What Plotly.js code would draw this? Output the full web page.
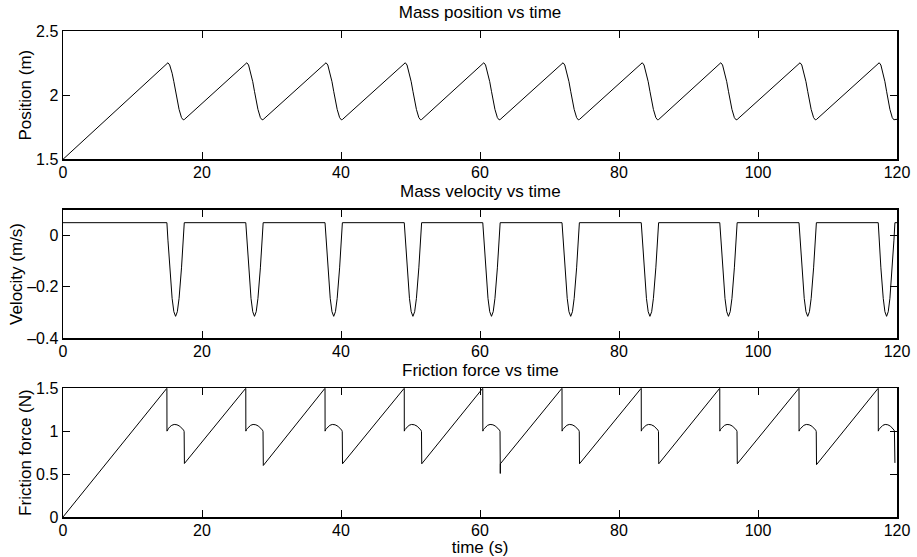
<!DOCTYPE html>
<html><head><meta charset="utf-8">
<script src="https://cdn.plot.ly/plotly-3.0.1.min.js"></script>
<style>html,body{margin:0;padding:0;background:#fff}#chart{width:917px;height:557px}</style>
</head><body><div id="chart"></div>
<script>
// Time samples (s) for position and velocity
const motionTime = [
  0,
  14.95,15.10,15.35,15.70,15.95,16.20,16.45,16.70,17.05,17.30,17.45,
  26.30,26.45,26.70,27.05,27.30,27.55,27.80,28.05,28.40,28.65,28.80,
  37.70,37.85,38.10,38.45,38.70,38.95,39.20,39.45,39.80,40.05,40.20,
  49.10,49.25,49.50,49.85,50.10,50.35,50.60,50.85,51.20,51.45,51.60,
  60.40,60.55,60.80,61.15,61.40,61.65,61.90,62.15,62.50,62.75,62.90,
  71.80,71.95,72.20,72.55,72.80,73.05,73.30,73.55,73.90,74.15,74.30,
  83.20,83.35,83.60,83.95,84.20,84.45,84.70,84.95,85.30,85.55,85.70,
  94.50,94.65,94.90,95.25,95.50,95.75,96.00,96.25,96.60,96.85,97.00,
  105.90,106.05,106.30,106.65,106.90,107.15,107.40,107.65,108.00,108.25,108.40,
  117.30,117.44,117.68,118.02,118.26,118.50,118.74,118.98,119.32,119.56,119.70,
  120
];
// Mass position (m)
const positionM = [
  1.5,
  2.25,2.2525,2.235,2.171,2.105,2.03,1.955,1.889,1.825,1.8075,1.81,
  2.25,2.2525,2.235,2.171,2.105,2.03,1.955,1.889,1.825,1.8075,1.81,
  2.25,2.2525,2.235,2.171,2.105,2.03,1.955,1.889,1.825,1.8075,1.81,
  2.25,2.2525,2.235,2.171,2.105,2.03,1.955,1.889,1.825,1.8075,1.81,
  2.25,2.2525,2.235,2.171,2.105,2.03,1.955,1.889,1.825,1.8075,1.81,
  2.25,2.2525,2.235,2.171,2.105,2.03,1.955,1.889,1.825,1.8075,1.81,
  2.25,2.2525,2.235,2.171,2.105,2.03,1.955,1.889,1.825,1.8075,1.81,
  2.25,2.2525,2.235,2.171,2.105,2.03,1.955,1.889,1.825,1.8075,1.81,
  2.25,2.2525,2.235,2.171,2.105,2.03,1.955,1.889,1.825,1.8075,1.81,
  2.25,2.2525,2.235,2.171,2.105,2.03,1.955,1.889,1.825,1.8075,1.81,
  1.8115
];
// Mass velocity (m/s)
const velocityMs = [
  0.05,
  0.05,-0.018,-0.126,-0.245,-0.297,-0.315,-0.297,-0.245,-0.126,-0.018,0.05,
  0.05,-0.018,-0.126,-0.245,-0.297,-0.315,-0.297,-0.245,-0.126,-0.018,0.05,
  0.05,-0.018,-0.126,-0.245,-0.297,-0.315,-0.297,-0.245,-0.126,-0.018,0.05,
  0.05,-0.018,-0.126,-0.245,-0.297,-0.315,-0.297,-0.245,-0.126,-0.018,0.05,
  0.05,-0.018,-0.126,-0.245,-0.297,-0.315,-0.297,-0.245,-0.126,-0.018,0.05,
  0.05,-0.018,-0.126,-0.245,-0.297,-0.315,-0.297,-0.245,-0.126,-0.018,0.05,
  0.05,-0.018,-0.126,-0.245,-0.297,-0.315,-0.297,-0.245,-0.126,-0.018,0.05,
  0.05,-0.018,-0.126,-0.245,-0.297,-0.315,-0.297,-0.245,-0.126,-0.018,0.05,
  0.05,-0.018,-0.126,-0.245,-0.297,-0.315,-0.297,-0.245,-0.126,-0.018,0.05,
  0.05,-0.018,-0.126,-0.245,-0.297,-0.315,-0.297,-0.245,-0.126,-0.018,0.05,
  0.05
];
// Friction force samples
const frictionTime = [
  0,
  14.95,14.96,15.05,15.20,15.40,15.65,16.00,16.40,16.80,17.15,17.35,17.43,17.47,
  26.30,26.31,26.40,26.55,26.75,27.00,27.35,27.75,28.15,28.50,28.70,28.78,28.82,
  37.70,37.71,37.80,37.95,38.15,38.40,38.75,39.15,39.55,39.90,40.10,40.18,40.22,
  49.10,49.11,49.20,49.35,49.55,49.80,50.15,50.55,50.95,51.30,51.50,51.58,51.62,
  60.40,60.41,60.50,60.65,60.85,61.10,61.45,61.85,62.25,62.60,62.80,62.88,62.92,62.93,
  71.80,71.81,71.90,72.05,72.25,72.50,72.85,73.25,73.65,74.00,74.20,74.28,74.32,
  83.20,83.21,83.30,83.45,83.65,83.90,84.25,84.65,85.05,85.40,85.60,85.68,85.72,
  94.50,94.51,94.60,94.75,94.95,95.20,95.55,95.95,96.35,96.70,96.90,96.98,97.02,
  105.90,105.91,106.00,106.15,106.35,106.60,106.95,107.35,107.75,108.10,108.30,108.38,108.42,
  117.30,117.31,117.40,117.54,117.73,117.97,118.30,118.68,119.06,119.40,119.58,119.63,119.70
];
const frictionN = [
  0,
  1.5,1.0,1.018,1.033,1.052,1.068,1.078,1.074,1.058,1.035,1.012,0.995,0.623,
  1.5,1.0,1.018,1.033,1.052,1.068,1.078,1.074,1.058,1.035,1.012,0.995,0.600,
  1.5,1.0,1.018,1.033,1.052,1.068,1.078,1.074,1.058,1.035,1.012,0.995,0.620,
  1.5,1.0,1.018,1.033,1.052,1.068,1.078,1.074,1.058,1.035,1.012,0.995,0.620,
  1.5,1.0,1.018,1.033,1.052,1.068,1.078,1.074,1.058,1.035,1.012,0.995,0.507,0.620,
  1.5,1.0,1.018,1.033,1.052,1.068,1.078,1.074,1.058,1.035,1.012,0.995,0.620,
  1.5,1.0,1.018,1.033,1.052,1.068,1.078,1.074,1.058,1.035,1.012,0.995,0.620,
  1.5,1.0,1.018,1.033,1.052,1.068,1.078,1.074,1.058,1.035,1.012,0.995,0.620,
  1.5,1.0,1.018,1.033,1.052,1.068,1.078,1.074,1.058,1.035,1.012,0.995,0.610,
  1.5,1.0,1.018,1.033,1.052,1.068,1.078,1.074,1.058,1.035,1.012,0.995,0.630
];
// Tick labels
const xTicks = [0,20,40,60,80,100,120];
const posTicks = [1.5,2,2.5];
const posTickText = ['1.5','2','2.5'];
const velTicks = [-0.4,-0.2,0];
const velTickText = ['\u20130.4','\u20130.2','0'];
const fricTicks = [0,0.5,1,1.5];
const fricTickText = ['0','0.5','1','1.5'];
const panelTitles = ['Mass position vs time','Mass velocity vs time','Friction force vs time'];

const FONT = 'Liberation Sans, Arial, Helvetica, sans-serif';
const lineStyle = {color:'#000', width:1};
const traces = [
  {x:motionTime, y:positionM, type:'scatter', mode:'lines', line:lineStyle, xaxis:'x', yaxis:'y', showlegend:false},
  {x:motionTime, y:velocityMs, type:'scatter', mode:'lines', line:lineStyle, xaxis:'x2', yaxis:'y2', showlegend:false},
  {x:frictionTime, y:frictionN, type:'scatter', mode:'lines', line:lineStyle, xaxis:'x3', yaxis:'y3', showlegend:false}
];
function ax(extra){
  return Object.assign({
    showline:true, linecolor:'#000', linewidth:1.5, mirror:'ticks',
    ticks:'inside', ticklen:7, tickwidth:1, tickcolor:'#000',
    showgrid:false, zeroline:false, fixedrange:true,
    tickfont:{family:FONT, size:16, color:'#000'}
  }, extra);
}
const titleFont = {family:FONT, size:17, color:'#000'};
const layout = {
  width:917, height:557,
  margin:{l:63, r:20, t:31, b:40},
  paper_bgcolor:'#fff', plot_bgcolor:'#fff',
  font:{family:FONT, size:16, color:'#000'},
  title:{text:panelTitles[0], font:titleFont, x:0.5, xanchor:'center', xref:'paper', y:1-12.5/557, yanchor:'middle', yref:'container'},
  xaxis: ax({anchor:'y', domain:[0,1], range:[0,120], tickvals:xTicks, ticklabelstandoff:-2}),
  xaxis2: ax({anchor:'y2', domain:[0,1], range:[0,120], tickvals:xTicks, ticklabelstandoff:-2}),
  xaxis3: ax({anchor:'y3', domain:[0,1], range:[0,120], tickvals:xTicks, ticklabelstandoff:-2,
    title:{text:'time (s)', font:titleFont, standoff:0}}),
  yaxis: ax({anchor:'x', domain:[0.736,1], range:[1.5,2.5], tickvals:posTicks, ticktext:posTickText,
    title:{text:'Position (m)', font:titleFont, standoff:0}}),
  yaxis2: ax({anchor:'x2', domain:[0.368,0.632], range:[-0.4,0.1], tickvals:velTicks, ticktext:velTickText,
    title:{text:'Velocity (m/s)', font:titleFont, standoff:0}}),
  yaxis3: ax({anchor:'x3', domain:[0,0.265], range:[0,1.5], tickvals:fricTicks, ticktext:fricTickText,
    title:{text:'Friction force (N)', font:titleFont, standoff:0}}),
  annotations:[
    {text:panelTitles[1], xref:'paper', yref:'paper', x:0.5, y:(517-191.5)/486, xanchor:'center', yanchor:'middle', showarrow:false, font:titleFont},
    {text:panelTitles[2], xref:'paper', yref:'paper', x:0.5, y:(517-370)/486, xanchor:'center', yanchor:'middle', showarrow:false, font:titleFont}
  ]
};
Plotly.newPlot('chart', traces, layout, {displayModeBar:false, staticPlot:true});
</script>
</body></html>
